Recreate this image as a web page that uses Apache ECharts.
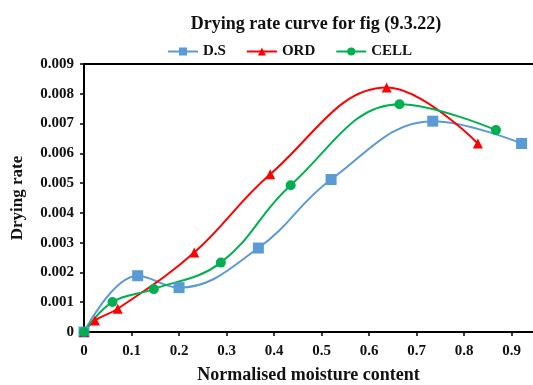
<!DOCTYPE html>
<html>
<head>
<meta charset="utf-8">
<script src="https://cdn.jsdelivr.net/npm/echarts@6/dist/echarts.min.js"></script>
<style>
  html, body { margin: 0; padding: 0; background: #fff; }
  #chart { width: 533px; height: 385px; }
</style>
</head>
<body>
<div id="chart"></div>
<script>
// Drying rate vs normalised moisture content for three samples
const seriesNames = ['D.S', 'ORD', 'CELL'];
const dsX = [0, 0.113, 0.200, 0.367, 0.520, 0.734, 0.921];
const dsY = [0, 0.00189, 0.00149, 0.00282, 0.00512, 0.00708, 0.00633];
const ordX = [0, 0.023, 0.071, 0.232, 0.392, 0.637, 0.829];
const ordY = [0, 0.00039, 0.00078, 0.00267, 0.00530, 0.00821, 0.00633];
const cellX = [0, 0.060, 0.147, 0.288, 0.435, 0.664, 0.867];
const cellY = [0, 0.00101, 0.00144, 0.00233, 0.00493, 0.00765, 0.00678];
const yTicks = [0, 0.001, 0.002, 0.003, 0.004, 0.005, 0.006, 0.007, 0.008, 0.009];

const pairs = (xs, ys) => xs.map((x, i) => [x, ys[i]]);
const font = '"Liberation Serif", "Times New Roman", serif';

const chart = echarts.init(document.getElementById('chart'));
chart.setOption({
  animation: false,
  textStyle: { fontFamily: font },
  title: {
    text: 'Drying rate curve for fig (9.3.22)',
    left: 311, textAlign: 'center', top: 10,
    textStyle: { fontFamily: font, fontWeight: 'bold', fontSize: 18, color: '#111' }
  },
  legend: {
    data: seriesNames,
    top: 39, left: 162,
    itemWidth: 30, itemHeight: 10, itemGap: 20,
    textStyle: { fontFamily: font, fontWeight: 'bold', fontSize: 15, color: '#111' }
  },
  grid: {
    left: 84, top: 64, right: 0, bottom: 53,
    containLabel: false, outerBoundsMode: 'none'
  },
  xAxis: [{
    type: 'value', min: 0, max: 0.945, interval: 0.1,
    name: 'Normalised moisture content',
    nameLocation: 'middle', nameGap: 34,
    nameTextStyle: { fontFamily: font, fontWeight: 'bold', fontSize: 18, color: '#111' },
    axisLine: { lineStyle: { color: '#000', width: 2 } },
    axisTick: { show: true, inside: false, length: 4, lineStyle: { color: '#000', width: 1.5 } },
    splitLine: { show: false },
    axisLabel: {
      fontFamily: font, fontWeight: 'bold', fontSize: 15, color: '#111', margin: 12,
      showMaxLabel: false,
      formatter: v => (v === 0 ? '0' : String(Math.round(v * 10) / 10))
    }
  }, {
    type: 'value', position: 'top', min: 0, max: 0.945,
    axisLine: { show: true, lineStyle: { color: '#000', width: 2 } },
    axisTick: { show: false }, axisLabel: { show: false }, splitLine: { show: false }
  }],
  yAxis: {
    type: 'value', min: 0, max: 0.009, interval: 0.001,
    name: 'Drying rate',
    nameLocation: 'middle', nameGap: 58, nameRotate: 90,
    nameTextStyle: { fontFamily: font, fontWeight: 'bold', fontSize: 17, color: '#111' },
    axisLine: { show: true, lineStyle: { color: '#000', width: 2 } },
    axisTick: { show: true, inside: false, length: 4, lineStyle: { color: '#000', width: 1.5 } },
    splitLine: { show: false },
    axisLabel: {
      fontFamily: font, fontWeight: 'bold', fontSize: 15, color: '#111', margin: 10,
      formatter: v => {
        const t = yTicks.find(k => Math.abs(k - v) < 1e-9);
        return t === 0 ? '0' : (t !== undefined ? t.toFixed(3) : '');
      }
    }
  },
  series: [
    {
      name: 'D.S', type: 'line', smooth: 0.4, data: pairs(dsX, dsY),
      symbol: 'rect', symbolSize: 11,
      lineStyle: { color: '#5b9bd5', width: 2 },
      itemStyle: { color: '#5b9bd5' }
    },
    {
      name: 'ORD', type: 'line', smooth: 0.4, data: pairs(ordX, ordY),
      symbol: 'triangle', symbolSize: 10,
      lineStyle: { color: '#ff0000', width: 2 },
      itemStyle: { color: '#ff0000' }
    },
    {
      name: 'CELL', type: 'line', smooth: 0.4, data: pairs(cellX, cellY),
      symbol: 'circle', symbolSize: 10,
      lineStyle: { color: '#00b050', width: 2 },
      itemStyle: { color: '#00b050' }
    }
  ]
});
</script>
</body>
</html>
